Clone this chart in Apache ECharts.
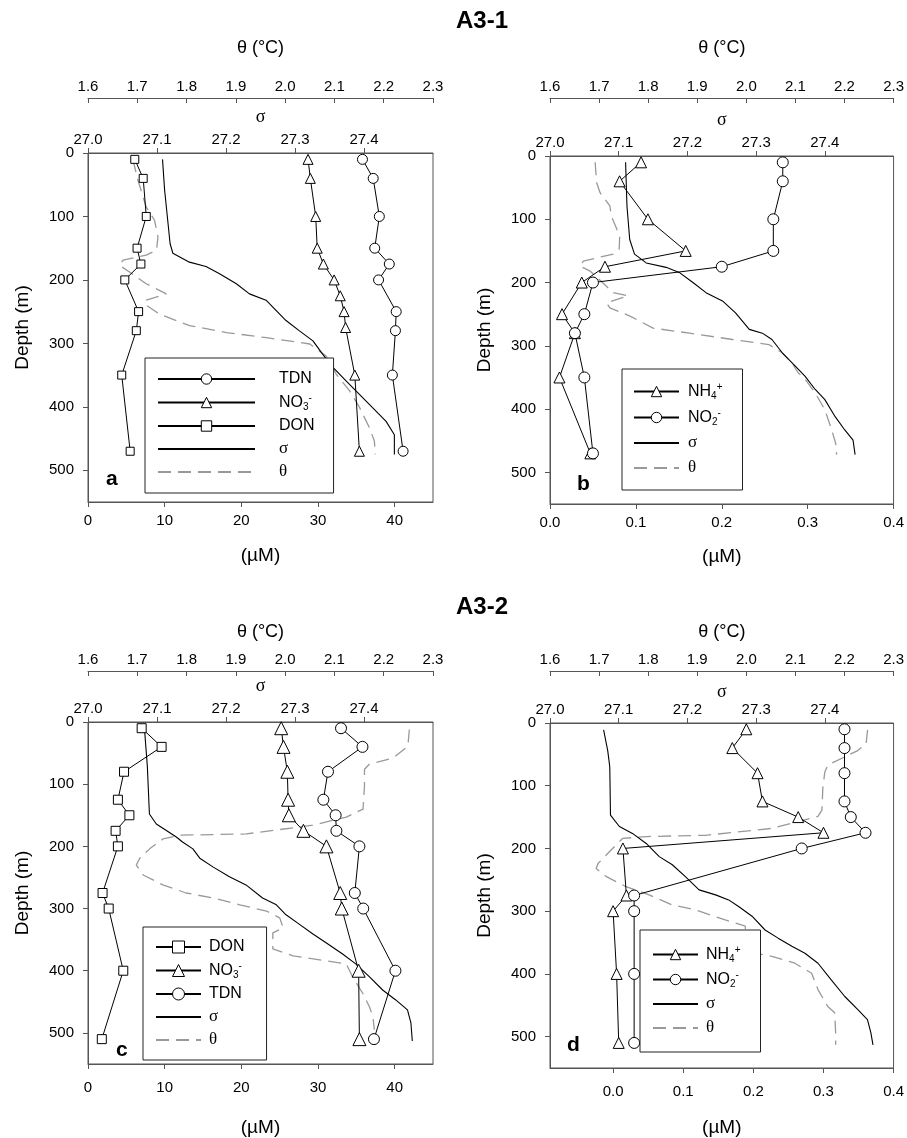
<!DOCTYPE html>
<html>
<head>
<meta charset="utf-8">
<title>A3-1 / A3-2 nitrogen profiles</title>
<script src="https://cdn.jsdelivr.net/npm/echarts@6/dist/echarts.min.js"></script>
<style>
    html, body { margin: 0; padding: 0; background: #fff; }
    #chart { width: 907px; height: 1138px; }
</style>
</head>
<body>
<div id="chart"></div>
<script>
// ---------- station A3-1 ----------
var depthA = [10, 40, 100, 150, 175, 200, 250, 280, 350, 470];
var tdnA = [35.8, 37.2, 38.0, 37.4, 39.3, 37.9, 40.2, 40.1, 39.7, 41.1];
var donA = [6.1, 7.2, 7.6, 6.4, 6.9, 4.8, 6.6, 6.3, 4.4, 5.5];
var depthNo3A = [10, 40, 100, 150, 175, 200, 225, 250, 275, 350, 470];
var no3A = [28.7, 29.0, 29.7, 29.9, 30.7, 32.1, 32.9, 33.4, 33.6, 34.8, 35.4];

var sigmaDepthA = [10, 58, 111, 143, 158, 172, 179, 190, 206, 222, 232, 264, 280, 296, 317, 338, 359, 380, 401, 423, 444, 475];
var sigmaA = [27.108, 27.111, 27.116, 27.119, 27.123, 27.147, 27.171, 27.190, 27.215, 27.234, 27.258, 27.287, 27.306, 27.326, 27.340, 27.355, 27.374, 27.393, 27.412, 27.432, 27.444, 27.444];
var thetaDepthA = [10, 42, 85, 106, 132, 153, 161, 169, 177, 188, 206, 222, 232, 238, 254, 272, 283, 291, 301, 320, 349, 375, 401, 433, 454, 475];
var thetaA = [1.691, 1.701, 1.718, 1.735, 1.742, 1.739, 1.718, 1.671, 1.664, 1.685, 1.718, 1.759, 1.718, 1.715, 1.745, 1.806, 1.881, 1.962, 2.050, 2.083, 2.104, 2.131, 2.151, 2.171, 2.181, 2.183];

var depthB = [10, 40, 100, 150, 175, 200, 250, 280, 350, 470];
var nh4B = [0.106, 0.081, 0.114, 0.158, 0.064, 0.037, 0.014, 0.029, 0.011, 0.047];
var no2B = [0.271, 0.271, 0.260, 0.260, 0.200, 0.050, 0.040, 0.029, 0.040, 0.050];

var sigmaDepthB = [10, 79, 132, 155, 169, 176, 184, 200, 216, 229, 248, 274, 280, 290, 311, 332, 348, 369, 385, 412, 433, 449, 472];
var sigmaB = [27.110, 27.112, 27.116, 27.123, 27.140, 27.169, 27.188, 27.208, 27.227, 27.251, 27.270, 27.290, 27.309, 27.323, 27.338, 27.357, 27.371, 27.386, 27.400, 27.415, 27.429, 27.441, 27.444];
var thetaDepthB = [10, 42, 58, 79, 95, 126, 147, 155, 166, 174, 182, 206, 216, 221, 232, 240, 253, 272, 280, 290, 298, 311, 327, 343, 353, 374, 401, 433, 454, 472];
var thetaB = [1.692, 1.695, 1.702, 1.722, 1.725, 1.742, 1.741, 1.729, 1.668, 1.661, 1.682, 1.715, 1.729, 1.759, 1.715, 1.722, 1.763, 1.810, 1.884, 1.972, 2.046, 2.073, 2.093, 2.106, 2.120, 2.140, 2.160, 2.174, 2.182, 2.184];

// ---------- station A3-2 ----------
var depthC = [10, 40, 80, 125, 150, 175, 200, 275, 300, 400, 510];
var donC = [7.0, 9.6, 4.7, 3.9, 5.4, 3.6, 3.9, 1.9, 2.7, 4.6, 1.8];
var no3C = [25.2, 25.5, 26.0, 26.1, 26.2, 28.1, 31.1, 32.9, 33.1, 35.3, 35.4];
var tdnC = [33.0, 35.8, 31.3, 30.7, 32.3, 32.4, 35.4, 34.8, 35.9, 40.1, 37.3];

var sigmaDepthC = [13, 71, 148, 164, 174, 185, 193, 204, 219, 233, 249, 262, 283, 294, 310, 325, 341, 355, 373, 389, 410, 431, 447, 463, 484, 513];
var sigmaC = [27.082, 27.086, 27.089, 27.099, 27.113, 27.128, 27.137, 27.152, 27.162, 27.181, 27.205, 27.229, 27.253, 27.273, 27.287, 27.306, 27.326, 27.345, 27.369, 27.388, 27.408, 27.427, 27.446, 27.463, 27.468, 27.470];
var thetaDepthC = [12, 39, 58, 68, 76, 103, 140, 153, 166, 180, 182, 188, 204, 219, 230, 246, 262, 275, 283, 294, 304, 315, 331, 339, 365, 376, 384, 389, 410, 437, 458, 474, 495];
var thetaC = [2.252, 2.249, 2.219, 2.171, 2.161, 2.161, 2.158, 2.124, 2.056, 1.921, 1.786, 1.752, 1.725, 1.705, 1.698, 1.712, 1.752, 1.799, 1.854, 1.908, 1.962, 1.989, 1.996, 1.975, 1.975, 2.016, 2.083, 2.124, 2.137, 2.158, 2.171, 2.178, 2.181];

var depthD = [10, 40, 80, 125, 150, 175, 200, 275, 300, 400, 510];
var nh4D = [0.190, 0.170, 0.206, 0.213, 0.264, 0.300, 0.014, 0.019, 0.000, 0.005, 0.008];
var no2D = [0.330, 0.330, 0.330, 0.330, 0.339, 0.360, 0.269, 0.030, 0.030, 0.030, 0.030];

var sigmaDepthD = [11, 44, 70, 147, 165, 176, 192, 213, 226, 245, 266, 274, 282, 293, 308, 330, 343, 356, 367, 383, 409, 436, 457, 473, 494, 513];
var sigmaD = [27.078, 27.084, 27.087, 27.088, 27.101, 27.120, 27.140, 27.159, 27.178, 27.197, 27.217, 27.241, 27.260, 27.275, 27.294, 27.313, 27.332, 27.352, 27.371, 27.390, 27.409, 27.429, 27.448, 27.462, 27.467, 27.470];
var thetaDepthD = [11, 33, 44, 67, 78, 102, 139, 149, 168, 179, 181, 184, 202, 224, 232, 245, 261, 274, 290, 298, 314, 324, 364, 372, 383, 399, 425, 452, 462, 494, 513];
var thetaD = [2.247, 2.244, 2.227, 2.166, 2.160, 2.156, 2.154, 2.146, 2.052, 1.917, 1.796, 1.748, 1.725, 1.698, 1.694, 1.715, 1.755, 1.802, 1.849, 1.897, 1.957, 1.998, 1.998, 2.052, 2.099, 2.133, 2.146, 2.166, 2.180, 2.182, 2.182];

// tick labels
var depthTicks = [0, 100, 200, 300, 400, 500];
var tnTicks = [0, 10, 20, 30, 40];
var minorNTicks = [0, 0.1, 0.2, 0.3, 0.4];

var SANS = "'Liberation Sans', Arial, sans-serif";
var SERIF = "'Liberation Serif', 'DejaVu Serif', serif";
var AXIS_COLOR = '#555';

function zip(xs, ys) {
    var out = [];
    for (var i = 0; i < xs.length; i++) {
        out.push([xs[i], ys[i]]);
    }
    return out;
}

function concAxis(gi, min, max, ticks, digits, margin, nameGap) {
    return {
        gridIndex: gi, type: 'value', position: 'bottom', min: min, max: max,
        name: '(µM)', nameLocation: 'middle', nameGap: nameGap,
        nameTextStyle: {fontFamily: SANS, fontSize: 19, color: '#000'},
        axisLine: {onZero: false, lineStyle: {color: AXIS_COLOR}},
        axisTick: {customValues: ticks, length: 5, lineStyle: {color: AXIS_COLOR}},
        axisLabel: {
            customValues: ticks, margin: margin, fontFamily: SANS, fontSize: 15, color: '#000',
            formatter: function (v) { return v.toFixed(digits); }
        },
        splitLine: {show: false}
    };
}

function sigmaAxis(gi, nameGap) {
    return {
        gridIndex: gi, type: 'value', position: 'top', min: 27.0, max: 27.5, interval: 0.1,
        name: 'σ', nameLocation: 'middle', nameGap: nameGap,
        nameTextStyle: {fontFamily: SERIF, fontSize: 18, color: '#000'},
        axisLine: {onZero: false, lineStyle: {color: AXIS_COLOR}},
        axisTick: {length: 5, lineStyle: {color: AXIS_COLOR}},
        axisLabel: {
            showMaxLabel: false, margin: 6, fontFamily: SANS, fontSize: 15, color: '#000',
            formatter: function (v) { return v.toFixed(1); }
        },
        splitLine: {show: false}
    };
}

function thetaAxis(gi, offset, nameGap) {
    return {
        gridIndex: gi, type: 'value', position: 'top', offset: offset, min: 1.6, max: 2.3, interval: 0.1,
        name: 'θ (°C)', nameLocation: 'middle', nameGap: nameGap,
        nameTextStyle: {fontFamily: SANS, fontSize: 18, color: '#000'},
        axisLine: {onZero: false, lineStyle: {color: AXIS_COLOR}},
        axisTick: {inside: true, length: 5, lineStyle: {color: AXIS_COLOR}},
        axisLabel: {
            margin: 4, fontFamily: SANS, fontSize: 15, color: '#000',
            formatter: function (v) { return v.toFixed(1); }
        },
        splitLine: {show: false}
    };
}

function depthAxis(gi) {
    return {
        gridIndex: gi, type: 'value', inverse: true, min: 0, max: 550,
        name: 'Depth (m)', nameLocation: 'middle', nameGap: 56,
        nameTextStyle: {fontFamily: SANS, fontSize: 19, color: '#000'},
        axisLine: {onZero: false, lineStyle: {color: AXIS_COLOR}},
        axisTick: {customValues: depthTicks, length: 5, lineStyle: {color: AXIS_COLOR}},
        axisLabel: {customValues: depthTicks, margin: 14, fontFamily: SANS, fontSize: 15, color: '#000'},
        splitLine: {show: false}
    };
}

// nutrient profile: open markers joined by a thin black line
function profile(name, gi, xs, depths, symbol, size) {
    return {
        name: name, type: 'line', xAxisIndex: gi * 3, yAxisIndex: gi,
        data: zip(xs, depths),
        symbol: symbol, symbolSize: size, showAllSymbol: true,
        lineStyle: {color: '#000', width: 1},
        itemStyle: {color: '#fff', borderColor: '#000', borderWidth: 1},
        emphasis: {disabled: true}, z: 4
    };
}

// CTD trace: sigma (solid black) or theta (dashed gray)
function ctd(name, gi, xs, depths) {
    var isTheta = name === 'θ';
    return {
        name: name, type: 'line', xAxisIndex: gi * 3 + (isTheta ? 2 : 1), yAxisIndex: gi,
        data: zip(xs, depths),
        symbol: 'none',
        lineStyle: isTheta ? {color: '#999', width: 1.3, type: [13, 7]} : {color: '#000', width: 1.1},
        // no markers: keep the legend swatch a bare line
        itemStyle: {color: 'rgba(0,0,0,0)', borderWidth: 0, opacity: 0},
        emphasis: {disabled: true}, z: 2
    };
}

var labelRich = {
    'TDN': '{t|TDN}',
    'DON': '{t|DON}',
    'NO3-': '{t|NO}{sub|3}{sup|-}',
    'NH4+': '{t|NH}{sub|4}{sup|+}',
    'NO2-': '{t|NO}{sub|2}{sup|-}',
    'σ': '{g|σ}',
    'θ': '{g|θ}'
};

function legendBox(names, left, top, itemWidth, itemHeight, itemGap, padding, spacer) {
    return {
        orient: 'vertical', left: left, top: top, data: names,
        itemWidth: itemWidth, itemHeight: itemHeight, itemGap: itemGap, padding: padding,
        backgroundColor: '#fff', borderColor: '#222', borderWidth: 1, borderRadius: 0,
        itemStyle: {borderWidth: 1},
        selectedMode: false, z: 10,
        formatter: function (name) { return '{sp| }' + labelRich[name]; },
        textStyle: {
            fontFamily: SANS, fontSize: 16, color: '#000', lineHeight: 18,
            rich: {
                sp: {width: spacer, lineHeight: 18},
                t: {fontFamily: SANS, fontSize: 16, lineHeight: 18},
                sub: {fontFamily: SANS, fontSize: 10, lineHeight: 9, padding: [9, 0, 0, 0]},
                sup: {fontFamily: SANS, fontSize: 10, lineHeight: 9, padding: [0, 0, 9, 0]},
                g: {fontFamily: SERIF, fontSize: 17, lineHeight: 18}
            }
        }
    };
}

function panelLetter(text, left, top) {
    return {text: text, left: left, top: top, padding: 0,
        textStyle: {fontFamily: SANS, fontSize: 21, fontWeight: 'bold', color: '#000'}};
}

var chart = echarts.init(document.getElementById('chart'), null, {renderer: 'canvas'});

var option = {
    backgroundColor: '#fff',
    animation: false,
    title: [
        {text: 'A3-1', left: 482, top: 9, textAlign: 'center', padding: 0,
            textStyle: {fontFamily: SANS, fontSize: 24, fontWeight: 'bold', color: '#000'}},
        {text: 'A3-2', left: 482, top: 595, textAlign: 'center', padding: 0,
            textStyle: {fontFamily: SANS, fontSize: 24, fontWeight: 'bold', color: '#000'}},
        panelLetter('a', 106, 469),
        panelLetter('b', 577, 474),
        panelLetter('c', 116, 1040),
        panelLetter('d', 567, 1035)
    ],
    grid: [
        {left: 88, top: 153, width: 345, height: 349, show: true, borderColor: AXIS_COLOR, borderWidth: 1},
        {left: 550, top: 156, width: 346, height: 348, show: true, borderColor: AXIS_COLOR, borderWidth: 1},
        {left: 88, top: 722, width: 345, height: 346, show: true, borderColor: AXIS_COLOR, borderWidth: 1},
        {left: 550, top: 723, width: 346, height: 345, show: true, borderColor: AXIS_COLOR, borderWidth: 1}
    ],
    xAxis: [
        concAxis(0, 0, 45, tnTicks, 0, 11, 44), sigmaAxis(0, 27), thetaAxis(0, 55, 41),
        concAxis(1, 0, 0.4, minorNTicks, 1, 11, 43), sigmaAxis(1, 27), thetaAxis(1, 58, 41),
        concAxis(2, 0, 45, tnTicks, 0, 16, 54), sigmaAxis(2, 27), thetaAxis(2, 51, 30),
        concAxis(3, -0.09, 0.4, minorNTicks, 1, 16, 50), sigmaAxis(3, 21), thetaAxis(3, 52, 30)
    ],
    yAxis: [depthAxis(0), depthAxis(1), depthAxis(2), depthAxis(3)],
    legend: [
        legendBox(['TDN', 'NO3-', 'DON', 'σ', 'θ'], 145, 358, 97, 13, 5, [12, 19, 12, 12], 19),
        legendBox(['NH4+', 'NO2-', 'σ', 'θ'], 622, 369, 45, 13, 7, [13, 20, 13, 11], 4),
        legendBox(['DON', 'NO3-', 'TDN', 'σ', 'θ'], 143, 927, 45, 15, 5, [11, 22, 11, 12], 3),
        legendBox(['NH4+', 'NO2-', 'σ', 'θ'], 640, 930, 45, 13, 6, [15, 20, 15, 12], 3)
    ],
    series: [
        // panel a
        ctd('θ', 0, thetaA, thetaDepthA),
        ctd('σ', 0, sigmaA, sigmaDepthA),
        profile('DON', 0, donA, depthA, 'rect', 8),
        profile('NO3-', 0, no3A, depthNo3A, 'triangle', 10),
        profile('TDN', 0, tdnA, depthA, 'circle', 10),
        // panel b
        ctd('θ', 1, thetaB, thetaDepthB),
        ctd('σ', 1, sigmaB, sigmaDepthB),
        profile('NH4+', 1, nh4B, depthB, 'triangle', 11),
        profile('NO2-', 1, no2B, depthB, 'circle', 11),
        // panel c
        ctd('θ', 2, thetaC, thetaDepthC),
        ctd('σ', 2, sigmaC, sigmaDepthC),
        profile('DON', 2, donC, depthC, 'rect', 9),
        profile('NO3-', 2, no3C, depthC, 'triangle', 13),
        profile('TDN', 2, tdnC, depthC, 'circle', 11),
        // panel d
        ctd('θ', 3, thetaD, thetaDepthD),
        ctd('σ', 3, sigmaD, sigmaDepthD),
        profile('NH4+', 3, nh4D, depthD, 'triangle', 11),
        profile('NO2-', 3, no2D, depthD, 'circle', 11)
    ]
};

chart.setOption(option);
</script>
</body>
</html>
